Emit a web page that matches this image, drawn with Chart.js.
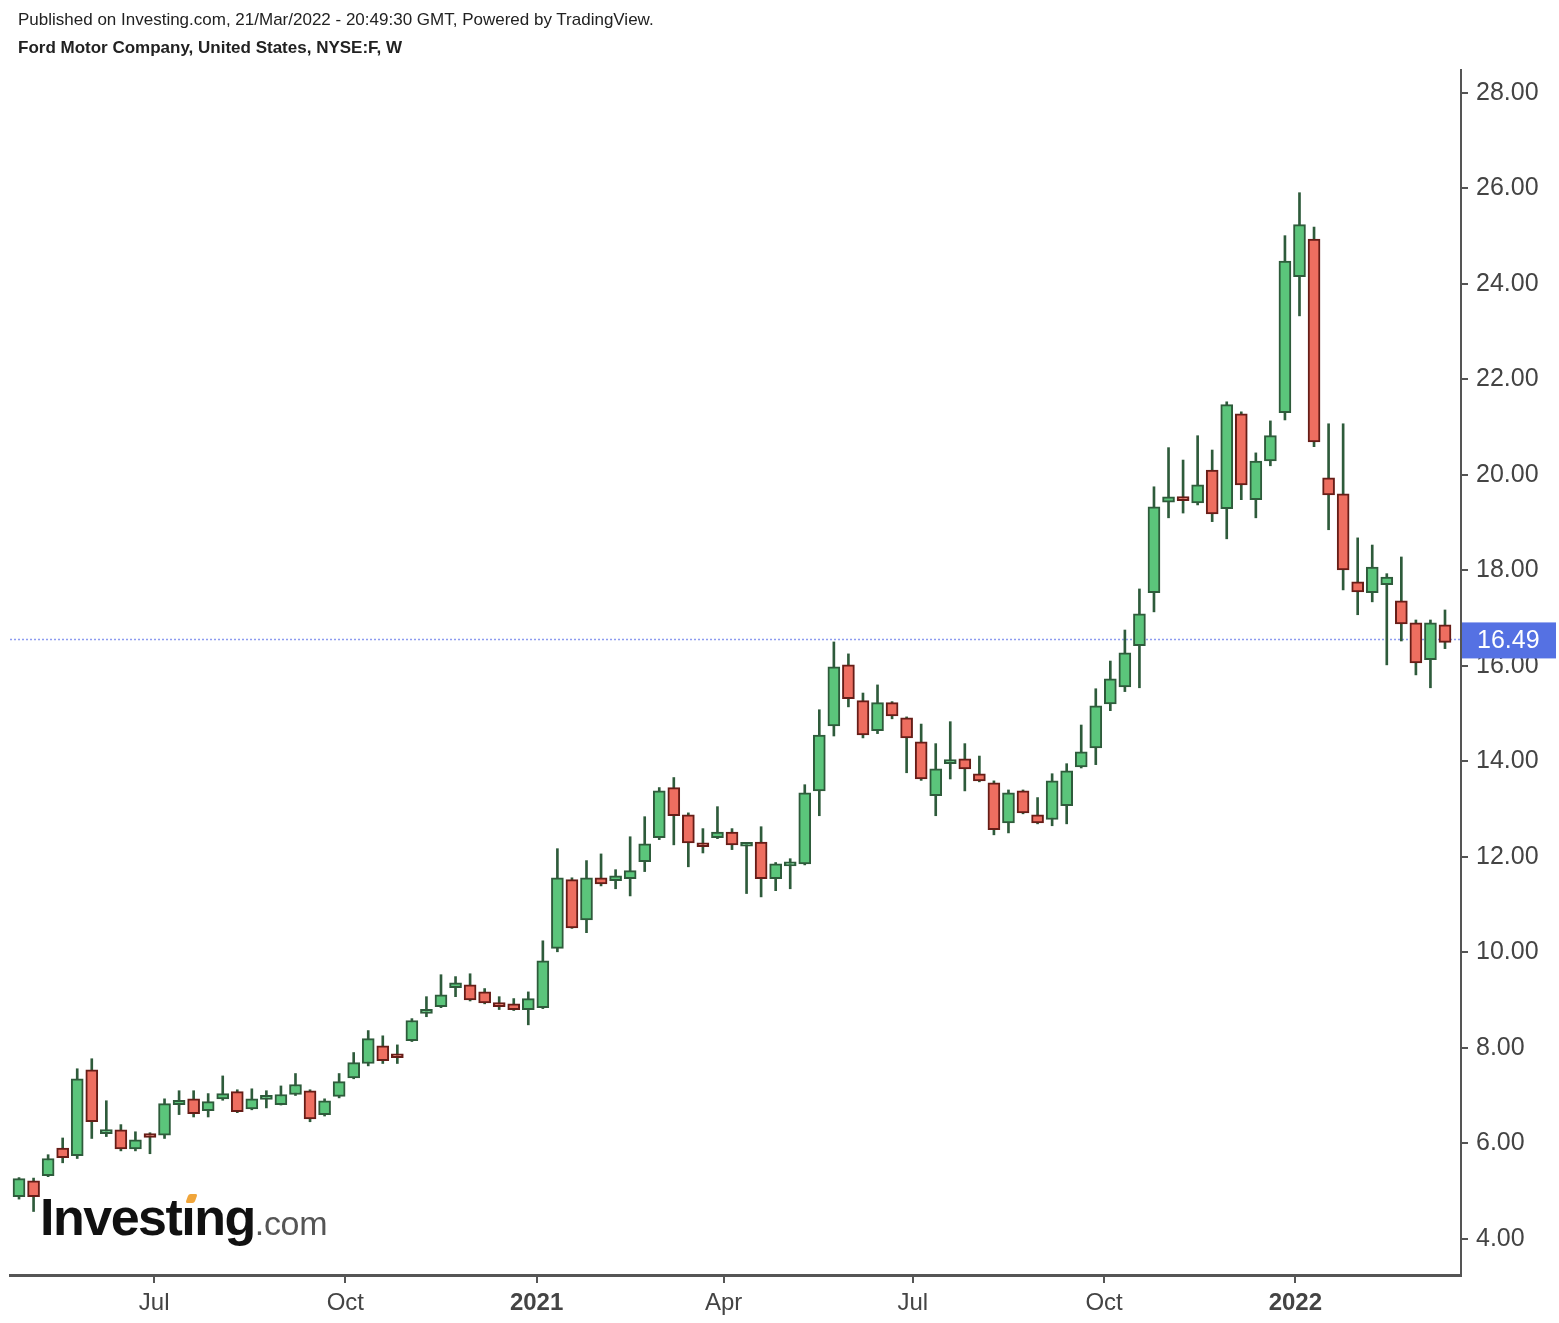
<!DOCTYPE html>
<html>
<head>
<meta charset="utf-8">
<script src="https://cdn.jsdelivr.net/npm/chart.js@4.4.1/dist/chart.umd.min.js"></script>
<style>
  html, body { margin: 0; padding: 0; background: #fff; }
  #wrap { position: relative; width: 1559px; height: 1323px; }
  #chart { position: absolute; left: 0; top: 0; }
  .hdr { position: absolute; left: 18px; font-family: "Liberation Sans", Arial, sans-serif; color: #222; white-space: nowrap; }
  #pub { top: 10px; font-size: 17px; }
  #sym { top: 38px; font-size: 17px; font-weight: bold; }
  #logo { position: absolute; left: 40px; top: 1187px; font-family: "Liberation Sans", Arial, sans-serif; white-space: nowrap; }
  #logo .big { font-size: 52px; font-weight: bold; letter-spacing: -1.5px; color: #111; }
  #logo .small { font-size: 34px; color: #555; letter-spacing: -0.3px; }
  #dot { position: absolute; left: 187px; top: 1194px; width: 9px; height: 9px; background: #f0a53a; transform: skewX(-20deg); border-radius: 2px; }
</style>
</head>
<body>
<div id="wrap">
  <canvas id="chart" width="1559" height="1323"></canvas>
  <div class="hdr" id="pub">Published on Investing.com, 21/Mar/2022 - 20:49:30 GMT, Powered by TradingView.</div>
  <div class="hdr" id="sym">Ford Motor Company, United States, NYSE:F, W</div>
  <div id="logo"><span class="big">Investıng</span><span class="small">.com</span></div>
  <div id="dot"></div>
</div>
<script>
// weekly candles, first week starts Mon 27 Apr 2020
const firstWeek = "2020-04-27";

const openP = [4.88, 5.21, 5.32, 5.90, 5.74, 7.54, 6.20, 6.28, 5.88, 6.16,
    6.17, 6.81, 6.93, 6.68, 6.93, 7.08, 6.72, 6.92, 6.81, 7.02,
    7.10, 6.60, 6.98, 7.37, 7.67, 8.04, 7.83, 8.15, 8.72, 8.86,
    9.26, 9.32, 9.17, 8.88, 8.92, 8.80, 8.84, 10.08, 11.52, 10.68,
    11.56, 11.50, 11.54, 11.90, 12.40, 13.45, 12.88, 12.23, 12.40, 12.52,
    12.22, 12.31, 11.54, 11.81, 11.85, 13.38, 14.74, 16.02, 15.27, 14.64,
    15.23, 14.91, 14.41, 13.28, 13.95, 14.05, 13.74, 13.55, 12.71, 13.38,
    12.88, 12.78, 13.07, 13.88, 14.28, 15.20, 15.56, 16.42, 17.53, 19.43,
    19.50, 19.41, 20.10, 19.29, 21.28, 19.48, 20.29, 21.30, 24.15, 24.94,
    19.94, 19.60, 17.76, 17.53, 17.70, 17.36, 16.90, 16.13, 16.86];

const highP = [5.28, 5.27, 5.76, 6.11, 7.56, 7.77, 6.89, 6.39, 6.24, 6.22,
    6.93, 7.10, 7.10, 7.04, 7.41, 7.12, 7.14, 7.10, 7.20, 7.46,
    7.12, 6.93, 7.46, 7.90, 8.36, 8.25, 8.06, 8.61, 9.07, 9.53,
    9.49, 9.55, 9.24, 9.07, 9.03, 9.17, 10.24, 12.17, 11.56, 11.92,
    12.06, 11.73, 12.42, 12.84, 13.45, 13.66, 12.92, 12.59, 13.05, 12.59,
    12.27, 12.63, 11.88, 11.96, 13.51, 15.08, 16.50, 16.25, 15.43, 15.60,
    15.25, 14.93, 14.78, 14.37, 14.83, 14.37, 14.11, 13.59, 13.40, 13.40,
    13.24, 13.74, 13.95, 14.76, 15.52, 16.10, 16.75, 17.61, 19.75, 20.57,
    20.31, 20.82, 20.52, 21.53, 21.32, 20.46, 21.13, 25.01, 25.91, 25.19,
    21.07, 21.07, 18.68, 18.53, 17.93, 18.28, 16.96, 16.96, 17.17];

const lowP = [4.83, 4.57, 5.30, 5.59, 5.68, 6.10, 6.14, 5.84, 5.84, 5.78,
    6.10, 6.60, 6.55, 6.55, 6.90, 6.64, 6.70, 6.74, 6.80, 7.00,
    6.45, 6.57, 6.95, 7.35, 7.62, 7.67, 7.67, 8.13, 8.65, 8.84,
    9.07, 8.98, 8.92, 8.80, 8.78, 8.48, 8.82, 10.01, 10.50, 10.41,
    11.39, 11.33, 11.18, 11.69, 12.36, 12.25, 11.79, 12.08, 12.38, 12.15,
    11.23, 11.16, 11.29, 11.33, 11.83, 12.86, 14.53, 15.14, 14.49, 14.58,
    14.89, 13.76, 13.60, 12.86, 13.63, 13.38, 13.57, 12.46, 12.50, 12.90,
    12.69, 12.65, 12.69, 13.86, 13.93, 15.06, 15.46, 15.54, 17.13, 19.10,
    19.20, 19.37, 19.02, 18.66, 19.48, 19.10, 20.19, 21.15, 23.33, 20.59,
    18.85, 17.59, 17.07, 17.34, 16.02, 16.52, 15.81, 15.54, 16.36];

const closeP = [5.26, 4.88, 5.68, 5.70, 7.35, 6.45, 6.22, 5.88, 6.07, 6.12,
    6.83, 6.90, 6.62, 6.87, 7.04, 6.66, 6.93, 6.95, 7.02, 7.23,
    6.51, 6.89, 7.29, 7.69, 8.19, 7.73, 7.79, 8.57, 8.76, 9.11,
    9.36, 9.00, 8.94, 8.86, 8.80, 9.03, 9.82, 11.56, 10.51, 11.56,
    11.43, 11.60, 11.71, 12.27, 13.38, 12.86, 12.29, 12.21, 12.52, 12.25,
    12.25, 11.54, 11.85, 11.88, 13.34, 14.55, 15.98, 15.31, 14.55, 15.23,
    14.95, 14.49, 13.63, 13.84, 13.97, 13.84, 13.59, 12.57, 13.34, 12.92,
    12.71, 13.59, 13.80, 14.20, 15.16, 15.73, 16.27, 17.09, 19.33, 19.54,
    19.46, 19.79, 19.18, 21.47, 19.79, 20.29, 20.82, 24.48, 25.24, 20.69,
    19.58, 18.01, 17.55, 18.07, 17.86, 16.88, 16.06, 16.90, 16.49];

const yTicks = [4, 6, 8, 10, 12, 14, 16, 18, 20, 22, 24, 26, 28];
const xTickDates = ["2020-07-01", "2020-10-01", "2021-01-01", "2021-04-01", "2021-07-01", "2021-10-01", "2022-01-01"];
const xTickLabels = ["Jul", "Oct", "2021", "Apr", "Jul", "Oct", "2022"];

const lastPrice = closeP[closeP.length - 1];

const green = "#5bc57b";
const greenEdge = "#2e5b3b";
const red = "#ee6e60";
const redEdge = "#661d17";
const wickColor = "#2e5b3b";

function weeksFromStart(d) {
    return (Date.parse(d) - Date.parse(firstWeek)) / (7 * 86400000);
}
const xTickPos = xTickDates.map(weeksFromStart);

const bodies = openP.map((o, i) => ({ x: i, y: [o, closeP[i]] }));
const wicks = lowP.map((l, i) => ({ x: i, y: [l, highP[i]] }));

function isUp(ctx) {
    const i = ctx.dataIndex;
    return closeP[i] >= openP[i];
}

// dotted last price line + blue label on the price axis
const priceLine = {
    id: "priceLine",
    beforeDatasetsDraw(chart) {
        const c = chart.ctx, a = chart.chartArea;
        const y = Math.round(chart.scales.y.getPixelForValue(lastPrice)) - 2.5;
        c.save();
        c.strokeStyle = "#8d9cf0";
        c.lineWidth = 1.5;
        c.setLineDash([2, 2]);
        c.beginPath();
        c.moveTo(a.left, y);
        c.lineTo(a.right, y);
        c.stroke();
        c.restore();
    },
    afterDraw(chart) {
        const c = chart.ctx, a = chart.chartArea;
        const y = chart.scales.y.getPixelForValue(lastPrice) - 2;
        c.save();
        c.fillStyle = "#5571e3";
        c.fillRect(a.right + 1, y - 18, 94, 36);
        c.fillStyle = "#fff";
        c.font = "25px 'Liberation Sans', Arial, sans-serif";
        c.textBaseline = "middle";
        c.fillText(lastPrice.toFixed(2), a.right + 16, y + 1);
        c.restore();
    }
};

const whiteBg = {
    id: "whiteBg",
    beforeDraw(chart) {
        const c = chart.ctx;
        c.save();
        c.fillStyle = "#fff";
        c.fillRect(0, 0, chart.width, chart.height);
        c.restore();
    }
};

new Chart(document.getElementById("chart"), {
    type: "bar",
    data: {
        datasets: [
            {
                label: "body",
                data: bodies,
                grouped: false,
                barThickness: 12,
                minBarLength: 4,
                borderWidth: 2,
                borderSkipped: false,
                backgroundColor: ctx => isUp(ctx) ? green : red,
                borderColor: ctx => isUp(ctx) ? greenEdge : redEdge
            },
            {
                label: "wick",
                data: wicks,
                grouped: false,
                barThickness: 2,
                borderWidth: 0,
                backgroundColor: wickColor
            }
        ]
    },
    options: {
        responsive: false,
        animation: false,
        layout: { padding: { left: 10, top: 70, right: 0, bottom: 0 } },
        plugins: { legend: { display: false }, tooltip: { enabled: false } },
        scales: {
            x: {
                type: "linear",
                offset: false,
                min: -0.62,
                max: 99.1,
                afterFit(s) { s.height = 48; },
                afterBuildTicks(s) { s.ticks = xTickPos.map(v => ({ value: v })); },
                grid: { offset: false, drawOnChartArea: false, tickLength: 8, color: "#555", lineWidth: 2 },
                border: { display: true, color: "#555", width: 3 },
                ticks: {
                    autoSkip: false,
                    maxRotation: 0,
                    padding: 6,
                    color: "#444",
                    font: ctx => ({
                        family: "'Liberation Sans', Arial, sans-serif",
                        size: 24,
                        weight: /^\d/.test(xTickLabels[ctx.index] || "") ? "bold" : "normal"
                    }),
                    callback: (v, i) => xTickLabels[i]
                }
            },
            y: {
                position: "right",
                min: 3.24,
                max: 28.48,
                afterFit(s) { s.width = 98; },
                afterBuildTicks(s) { s.ticks = yTicks.map(v => ({ value: v })); },
                grid: { drawOnChartArea: false, tickLength: 7, color: "#555", lineWidth: 2 },
                border: { display: true, color: "#555", width: 2 },
                ticks: {
                    padding: 8,
                    color: "#444",
                    font: { family: "'Liberation Sans', Arial, sans-serif", size: 25 },
                    callback: v => Number(v).toFixed(2)
                }
            }
        }
    },
    plugins: [whiteBg, priceLine]
});
</script>
</body>
</html>
